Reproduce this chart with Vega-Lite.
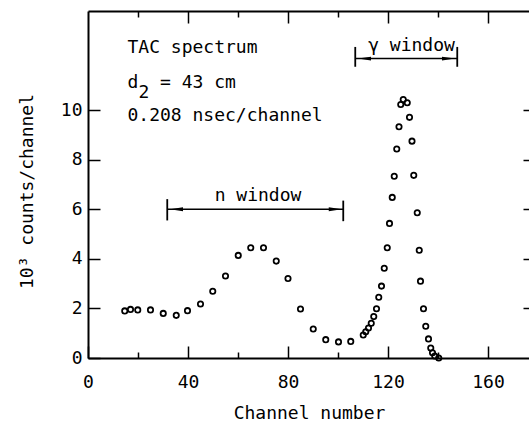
{
  "$schema": "https://vega.github.io/schema/vega-lite/v6.json",
  "width": 441,
  "height": 347,
  "autosize": {"type": "none"},
  "padding": {"left": 88, "top": 11, "right": 0, "bottom": 64},
  "background": "white",
  "config": {
    "view": {"stroke": null},
    "axis": {
      "labelFont": "DejaVu Sans Mono",
      "labelFontSize": 18,
      "labelColor": "black",
      "titleFont": "DejaVu Sans Mono",
      "titleFontSize": 18,
      "titleFontWeight": "normal",
      "titleColor": "black",
      "tickColor": "black",
      "tickWidth": 1.5,
      "domainColor": "black",
      "domainWidth": 2,
      "grid": false
    }
  },
  "datasets": {
    "spectrum": [
      {"ch": 14.7, "v": 1.90}, {"ch": 17.0, "v": 1.96}, {"ch": 19.9, "v": 1.94},
      {"ch": 25.0, "v": 1.94}, {"ch": 30.1, "v": 1.80}, {"ch": 35.3, "v": 1.72},
      {"ch": 39.8, "v": 1.91}, {"ch": 45.0, "v": 2.18}, {"ch": 49.9, "v": 2.69},
      {"ch": 55.0, "v": 3.31}, {"ch": 60.1, "v": 4.14}, {"ch": 65.1, "v": 4.45},
      {"ch": 70.2, "v": 4.45}, {"ch": 75.3, "v": 3.91}, {"ch": 80.0, "v": 3.21},
      {"ch": 85.0, "v": 1.98}, {"ch": 90.1, "v": 1.17}, {"ch": 95.1, "v": 0.74},
      {"ch": 100.2, "v": 0.65}, {"ch": 105.1, "v": 0.67}, {"ch": 110.1, "v": 0.93},
      {"ch": 111.1, "v": 1.06}, {"ch": 112.2, "v": 1.21}, {"ch": 113.3, "v": 1.40},
      {"ch": 114.3, "v": 1.67}, {"ch": 115.4, "v": 1.99}, {"ch": 116.3, "v": 2.45},
      {"ch": 117.4, "v": 2.90}, {"ch": 118.5, "v": 3.62}, {"ch": 119.7, "v": 4.45},
      {"ch": 120.6, "v": 5.43}, {"ch": 121.7, "v": 6.48}, {"ch": 122.5, "v": 7.33},
      {"ch": 123.5, "v": 8.43}, {"ch": 124.4, "v": 9.33}, {"ch": 125.1, "v": 10.23},
      {"ch": 126.1, "v": 10.43}, {"ch": 127.7, "v": 10.30}, {"ch": 128.6, "v": 9.71},
      {"ch": 129.6, "v": 8.75}, {"ch": 130.3, "v": 7.37}, {"ch": 131.7, "v": 5.86},
      {"ch": 132.5, "v": 4.35}, {"ch": 133.0, "v": 3.10}, {"ch": 134.2, "v": 1.99},
      {"ch": 135.1, "v": 1.28}, {"ch": 136.2, "v": 0.77}, {"ch": 137.1, "v": 0.40},
      {"ch": 137.8, "v": 0.21}, {"ch": 138.7, "v": 0.08}, {"ch": 140.3, "v": 0.0}
    ],
    "windows": [
      {"name": "n", "x1": 31.7, "x2": 102.1, "y": 6.0},
      {"name": "gamma", "x1": 106.9, "x2": 147.7, "y": 12.08}
    ],
    "bars": [
      {"x": 31.7, "y1": 5.55, "y2": 6.41},
      {"x": 102.1, "y1": 5.52, "y2": 6.35},
      {"x": 106.9, "y1": 11.75, "y2": 12.55},
      {"x": 147.7, "y1": 11.75, "y2": 12.55}
    ],
    "heads": [
      {"x": 35.4, "y": 6.0, "dir": "left"},
      {"x": 98.9, "y": 6.0, "dir": "right"},
      {"x": 110.6, "y": 12.08, "dir": "left"},
      {"x": 144.2, "y": 12.08, "dir": "right"}
    ],
    "leftText": [
      {"x": 15.8, "y": 12.30, "label": "TAC spectrum"},
      {"x": 15.8, "y": 10.89, "label": "d"},
      {"x": 20.2, "y": 10.48, "label": "2"},
      {"x": 28.8, "y": 10.89, "label": "= 43 cm"},
      {"x": 15.8, "y": 9.56, "label": "0.208 nsec/channel"}
    ],
    "centerText": [
      {"x": 68.0, "y": 6.34, "label": "n window"},
      {"x": 129.4, "y": 12.40, "label": "γ window"}
    ]
  },
  "layer": [
    {
      "data": {"name": "spectrum"},
      "mark": {"type": "point", "filled": false, "stroke": "black", "strokeWidth": 1.8, "size": 28, "opacity": 1},
      "encoding": {
        "x": {
          "field": "ch", "type": "quantitative",
          "scale": {"domain": [0, 176.4], "nice": false, "zero": false},
          "axis": {
            "orient": "bottom", "values": [0, 40, 80, 120, 160], "tickSize": -12,
            "labelPadding": 41, "labelBaseline": "alphabetic", "labelFlush": false,
            "title": "Channel number", "titleX": 221, "titleY": 60,
            "titleAlign": "center", "titleBaseline": "alphabetic"
          }
        },
        "y": {
          "field": "v", "type": "quantitative",
          "scale": {"domain": [0, 14], "nice": false, "zero": false},
          "axis": {
            "orient": "left", "values": [0, 2, 4, 6, 8, 10], "tickSize": -12,
            "labelPadding": 18, "labelFlush": false,
            "title": "10³ counts/channel", "titleX": -61, "titleY": 180,
            "titleAngle": -90, "titleAlign": "center", "titleBaseline": "middle"
          }
        }
      }
    },
    {
      "data": {"name": "windows"},
      "mark": {"type": "rule", "stroke": "black", "strokeWidth": 1.5},
      "encoding": {
        "x": {
          "field": "x1", "type": "quantitative",
          "scale": {"domain": [0, 176.4], "nice": false, "zero": false},
          "axis": {"orient": "bottom", "values": [20, 60, 100, 140], "tickSize": -6, "labels": false, "domain": false, "title": null}
        },
        "x2": {"field": "x2"},
        "y": {
          "field": "y", "type": "quantitative",
          "scale": {"domain": [0, 14], "nice": false, "zero": false},
          "axis": {"orient": "right", "values": [2, 4, 6, 8, 10], "tickSize": -6, "labels": false, "domain": false, "title": null}
        }
      }
    },
    {
      "data": {"name": "bars"},
      "mark": {"type": "rule", "stroke": "black", "strokeWidth": 1.8},
      "encoding": {
        "x": {
          "field": "x", "type": "quantitative",
          "scale": {"domain": [0, 176.4], "nice": false, "zero": false},
          "axis": {"orient": "top", "values": [40, 80, 120, 160], "tickSize": -12, "labels": false, "domain": true, "title": null}
        },
        "y": {
          "field": "y1", "type": "quantitative",
          "scale": {"domain": [0, 14], "nice": false, "zero": false},
          "axis": null
        },
        "y2": {"field": "y2"}
      }
    },
    {
      "data": {"name": "heads"},
      "mark": {"type": "point", "filled": true, "fill": "black", "stroke": null, "size": 169, "opacity": 1},
      "encoding": {
        "x": {
          "field": "x", "type": "quantitative",
          "scale": {"domain": [0, 176.4], "nice": false, "zero": false},
          "axis": {"orient": "top", "values": [20, 60, 100, 140], "tickSize": -6, "labels": false, "domain": false, "title": null}
        },
        "y": {
          "field": "y", "type": "quantitative",
          "scale": {"domain": [0, 14], "nice": false, "zero": false},
          "axis": null
        },
        "shape": {
          "field": "dir", "type": "nominal",
          "scale": {"domain": ["left", "right"], "range": ["M-1,0L1,-0.3L1,0.3Z", "M1,0L-1,-0.3L-1,0.3Z"]},
          "legend": null
        }
      }
    },
    {
      "data": {"name": "leftText"},
      "mark": {"type": "text", "align": "left", "baseline": "alphabetic", "font": "DejaVu Sans Mono", "fontSize": 18, "fill": "black"},
      "encoding": {
        "x": {"field": "x", "type": "quantitative", "scale": {"domain": [0, 176.4], "nice": false, "zero": false}, "axis": null},
        "y": {"field": "y", "type": "quantitative", "scale": {"domain": [0, 14], "nice": false, "zero": false}, "axis": null},
        "text": {"field": "label"}
      }
    },
    {
      "data": {"name": "centerText"},
      "mark": {"type": "text", "align": "center", "baseline": "alphabetic", "font": "DejaVu Sans Mono", "fontSize": 18, "fill": "black"},
      "encoding": {
        "x": {"field": "x", "type": "quantitative", "scale": {"domain": [0, 176.4], "nice": false, "zero": false}, "axis": null},
        "y": {"field": "y", "type": "quantitative", "scale": {"domain": [0, 14], "nice": false, "zero": false}, "axis": null},
        "text": {"field": "label"}
      }
    }
  ]
}
